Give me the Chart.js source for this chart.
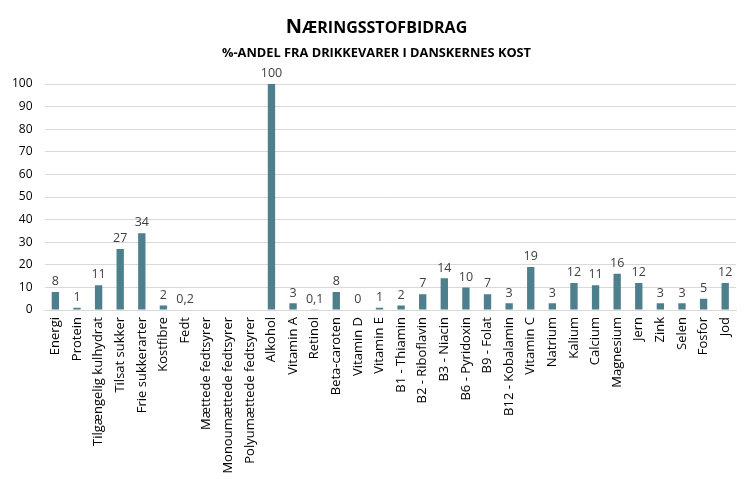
<!DOCTYPE html>
<html>
<head>
<meta charset="utf-8">
<script src="https://cdn.jsdelivr.net/npm/chart.js@4"></script>
<style>
  body { margin:0; background:#fff; }
  #wrap { position:relative; width:753px; height:479px; }
  #title { position:absolute; top:16px; left:0; width:753px; text-align:center; line-height:1;
           font-family:"Open Sans", sans-serif; font-weight:bold; font-size:20px; color:#000; }
  #sub { position:absolute; top:46px; left:0; width:753px; text-align:center; line-height:1;
         font-family:"Open Sans", sans-serif; font-weight:bold; font-size:12.8px; color:#000; }
</style>
</head>
<body>
<div id="wrap">
  <canvas id="myChart" width="753" height="479"></canvas>
  <div id="title"><span>N</span><span style="font-size:16px">ÆRINGSSTOFBIDRAG</span></div>
  <div id="sub">%-ANDEL FRA DRIKKEVARER I DANSKERNES KOST</div>
</div>
<script>
// categories + values (null = no bar, no label)
const nutrients = ['Energi','Protein','Tilgængelig kulhydrat','Tilsat sukker','Frie sukkerarter','Kostfibre','Fedt',
  'Mættede fedtsyrer','Monoumættede fedtsyrer','Polyumættede fedtsyrer','Alkohol','Vitamin A','Retinol','Beta-caroten',
  'Vitamin D','Vitamin E','B1 - Thiamin','B2 - Riboflavin','B3 - Niacin','B6 - Pyridoxin','B9 - Folat','B12 - Kobalamin',
  'Vitamin C','Natrium','Kalium','Calcium','Magnesium','Jern','Zink','Selen','Fosfor','Jod'];
const shares = [8,1,11,27,34,2,0.2,null,null,null,100,3,0.1,8,0,1,2,7,14,10,7,3,19,3,12,11,16,12,3,3,5,12];
const yTicks = [0,10,20,30,40,50,60,70,80,90,100];

// value labels above the bars
const barLabels = {
    id:'barLabels',
    afterDatasetsDraw(chart) {
        const ctx = chart.ctx;
        const meta = chart.getDatasetMeta(0);
        ctx.save();
        ctx.font = '12.5px "Open Sans", sans-serif';
        ctx.fillStyle = '#404040';
        ctx.textAlign = 'center';
        ctx.textBaseline = 'bottom';
        meta.data.forEach((bar, i) => {
            const v = shares[i];
            if (v === null) return;
            ctx.fillText(String(v).replace('.', ','), bar.x, bar.y - 4);
        });
        ctx.restore();
    }
};

const ctx = document.getElementById('myChart').getContext('2d');
const myChart = new Chart(ctx, {
    type:'bar',
    data:{
        labels: nutrients,
        datasets:[{
            data: shares,
            backgroundColor:'#4e7f8d',
            barPercentage:0.34,
            categoryPercentage:1.0
        }]
    },
    options:{
        responsive:false,
        animation:false,
        layout:{ padding:{ top:84, left:0, right:17, bottom:0 } },
        plugins:{
            legend:{ display:false },
            tooltip:{ enabled:false }
        },
        scales:{
            x:{
                grid:{ display:false, drawTicks:false },
                border:{ display:true, color:'#d9d9d9' },
                afterFit(scale) { scale.height = 169; },  // keep the zero line where the original has it
                ticks:{
                    autoSkip:false,
                    padding:7,
                    minRotation:90, maxRotation:90,
                    color:'#000',
                    font:{ family:'"Open Sans", sans-serif', size:13 }
                }
            },
            y:{
                min:0, max:100,
                afterBuildTicks(axis) { axis.ticks = yTicks.map(v => ({ value:v })); },
                grid:{ color:'#d9d9d9', drawTicks:false },
                border:{ display:false },
                ticks:{
                    padding:12,
                    color:'#000',
                    font:{ family:'"Open Sans", sans-serif', size:12 }
                }
            }
        }
    },
    plugins:[barLabels]
});
</script>
</body>
</html>
